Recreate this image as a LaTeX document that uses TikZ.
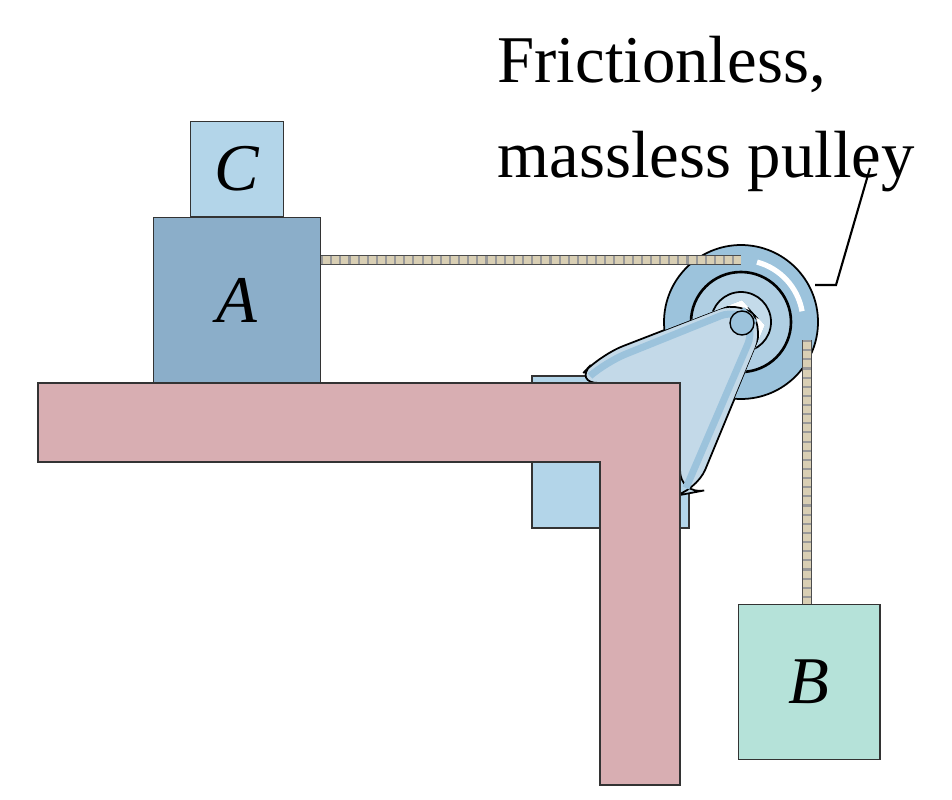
\documentclass[tikz,border=0pt]{standalone}
\usepackage{fontspec}
\setmainfont{Liberation Serif}
\usetikzlibrary{positioning}
\definecolor{tablepink}{HTML}{D8AEB2}
\definecolor{blockA}{HTML}{8BAEC9}
\definecolor{blockC}{HTML}{B3D5E9}
\definecolor{blockB}{HTML}{B5E2D9}
\definecolor{pulleyblue}{HTML}{9CC3DC}
\definecolor{platelight}{HTML}{C3D9E8}
\definecolor{ropetan}{HTML}{D9CFB4}
\begin{document}
\begin{tikzpicture}[x=0.02cm,y=-0.02cm,semithick]

  \tikzstyle{block}=[rectangle,draw=black!80,inner sep=0pt,font=\fontsize{38}{38}\selectfont\itshape]
  \tikzstyle{rope}=[line width=4.5pt,ropetan,preaction={draw=black!70,line width=5.8pt}]
  \tikzstyle{twist}=[line width=4.5pt,black!40,dash pattern=on 1.2pt off 4pt]

  \useasboundingbox (0,0) rectangle (952,800);

  % bracket plate and arm, behind the table
  \filldraw[fill=blockC,draw=black!80] (532,376) rectangle (689,528);
  \filldraw[fill=platelight,draw=black,line width=1pt,rounded corners=14pt]
    (574,383) -- (600,355) -- (742,300) -- (765,325) -- (696,492) -- (680,495)
    -- (680,383) -- cycle;
  \draw[pulleyblue,line width=4pt,rounded corners=12pt]
    (590,376) -- (606,362) -- (740,308) -- (756,325) -- (686,488);
  \node[circle,draw=black,fill=pulleyblue,minimum size=0.48cm,line width=0.8pt] (axle) at (742,323) {};

  \filldraw[fill=tablepink,draw=black!80] (38,383) -- (680,383) -- (680,785)
    -- (600,785) -- (600,462) -- (38,462) -- cycle;

  % blocks
  \node[block,fill=blockA,minimum width=3.34cm,minimum height=3.3cm] (A) at (237,300) {A};
  \node[block,fill=blockC,minimum width=1.86cm,minimum height=1.9cm,above=0pt of A] (C) {C};
  \node[block,fill=blockB,minimum width=2.84cm,minimum height=3.1cm] (B) at (809,682) {B};

  % pulley
  \begin{scope}
    \clip (0,0) rectangle (952,800) (574,383) -- (600,355) -- (742,300) -- (765,325)
      -- (696,492) -- (680,495) -- (680,383) -- cycle;
    \node[circle,draw=black,fill=pulleyblue,minimum size=3.08cm,line width=1pt] (P) at (741,322) {};
    \draw[white,line width=3pt] (741,322) ++(-10:62) arc (-10:-75:62);
    \draw[black,line width=1.5pt,fill=pulleyblue!80] (741,322) circle (50);
    \draw[black,line width=1pt,fill=pulleyblue!60!white] (741,322) circle (30);
  \end{scope}

  % ropes
  \coordinate (top) at (741,260);
  \coordinate (side) at (807,340);
  \draw[rope] (A.east |- top) -- (top);
  \draw[twist] (A.east |- top) -- (top);
  \draw[rope] (side) -- (B.north -| side);
  \draw[twist] (side) -- (B.north -| side);

  % label
  \node[align=left,font=\fontsize{38}{54}\selectfont,anchor=west,inner sep=0pt] (lbl) at (497,114)
    {Frictionless,\\massless pulley};
  \coordinate (tip) at (815,285);
  \draw[black,line width=1.2pt] (870,168) -- (836,285) -- (tip);

\end{tikzpicture}
\end{document}
